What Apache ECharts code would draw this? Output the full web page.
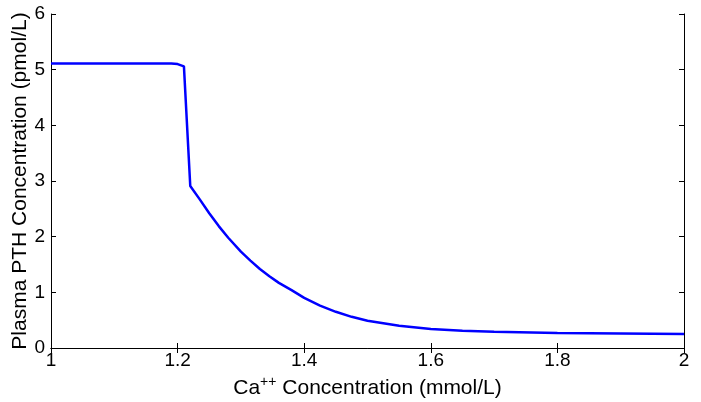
<!DOCTYPE html>
<html>
<head>
<meta charset="utf-8">
<style>
  html, body { margin: 0; padding: 0; background: #fff; }
  #chart { width: 701px; height: 402px; }
</style>
<script src="https://cdn.jsdelivr.net/npm/echarts@6/dist/echarts.min.js"></script>
</head>
<body>
<div id="chart"></div>
<script>
// Ionized calcium concentration (mmol/L)
const calcium = [1.00, 1.10, 1.19, 1.20, 1.21, 1.22, 1.235, 1.25, 1.265, 1.28, 1.30, 1.315,
                 1.33, 1.345, 1.36, 1.38, 1.40, 1.425, 1.45, 1.475, 1.50, 1.55, 1.60,
                 1.65, 1.70, 1.80, 1.90, 2.00];
// Plasma PTH concentration (pmol/L)
const pth = [5.11, 5.11, 5.11, 5.10, 5.06, 2.91, 2.67, 2.42, 2.19, 1.98, 1.73, 1.57,
             1.42, 1.29, 1.17, 1.04, 0.90, 0.76, 0.65, 0.56, 0.49, 0.40, 0.34,
             0.31, 0.29, 0.27, 0.26, 0.25];
const xTicks = [1, 1.2, 1.4, 1.6, 1.8, 2];
const yTicks = [0, 1, 2, 3, 4, 5, 6];

const font = 'Liberation Sans, Arial, Helvetica, sans-serif';
const chart = echarts.init(document.getElementById('chart'));

const frameAxis = {
  axisLine: { show: true, lineStyle: { color: '#000', width: 1 } },
  axisTick: { show: true, inside: true, length: 5, lineStyle: { color: '#000' } },
  splitLine: { show: false }
};

chart.setOption({
  animation: false,
  backgroundColor: '#fff',
  grid: { left: 51, right: 17, top: 14, bottom: 54, containLabel: false, outerBoundsMode: 'none' },
  xAxis: [
    Object.assign({
      type: 'value', min: 1, max: 2, interval: 0.2,
      name: '{a|Ca}{s|++}{a| Concentration (mmol/L)}',
      nameLocation: 'middle', nameGap: 21,
      nameTextStyle: {
        rich: {
          a: { fontFamily: font, fontSize: 21, color: '#000', lineHeight: 24, verticalAlign: 'bottom' },
          s: { fontFamily: font, fontSize: 14, color: '#000', lineHeight: 24, verticalAlign: 'top', padding: [0, 0, 9, 0] }
        }
      },
      axisLabel: {
        fontFamily: font, fontSize: 19, color: '#000', margin: 3,
        formatter: v => xTicks.includes(+v.toFixed(1)) ? String(+v.toFixed(1)) : ''
      }
    }, frameAxis),
    Object.assign({
      type: 'value', min: 1, max: 2, interval: 0.2, position: 'top',
      axisLabel: { show: false }
    }, frameAxis)
  ],
  yAxis: [
    Object.assign({
      type: 'value', min: 0, max: 6, interval: 1,
      name: 'Plasma PTH Concentration (pmol/L)',
      nameLocation: 'middle', nameGap: 20, nameMoveOverlap: false,
      nameTextStyle: { fontFamily: font, fontSize: 21, color: '#000' },
      axisLabel: {
        fontFamily: font, fontSize: 19, color: '#000', margin: 6,
        formatter: v => yTicks.includes(v) ? String(v) : ''
      }
    }, frameAxis),
    Object.assign({
      type: 'value', min: 0, max: 6, interval: 1, position: 'right',
      axisLabel: { show: false }
    }, frameAxis)
  ],
  series: [{
    type: 'line',
    data: calcium.map((c, i) => [c, pth[i]]),
    showSymbol: false,
    smooth: false,
    lineStyle: { color: '#0000ff', width: 2.5 },
    xAxisIndex: 0,
    yAxisIndex: 0
  }]
});
</script>
</body>
</html>
